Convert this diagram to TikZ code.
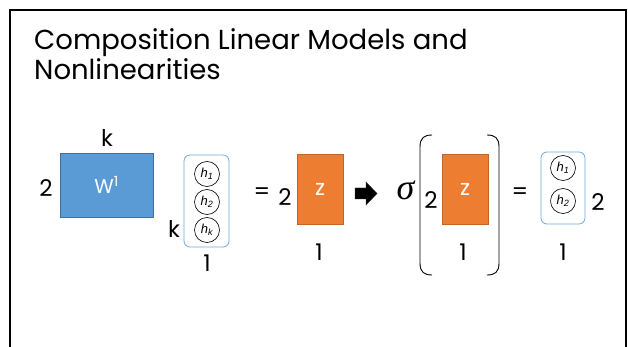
\documentclass[tikz,border=0pt]{standalone}
\usepackage{fontspec}
\setmainfont{Poppins}
\newfontfamily\hfont{Liberation Sans}
\newfontfamily\sigfont{Liberation Serif}
\definecolor{wblue}{HTML}{5B9BD5}
\definecolor{wborder}{HTML}{41719C}
\definecolor{zorange}{HTML}{ED7D31}
\definecolor{zborder}{HTML}{C0642A}
\definecolor{hblue}{HTML}{6FA8DC}
\begin{document}
\begin{tikzpicture}[x=1pt,y=-1pt,
  lbl/.style={inner sep=0pt, font=\fontsize{23}{23}\selectfont},
  ttl/.style={inner sep=0pt, anchor=base west, font=\fontsize{27.5}{30}\selectfont},
  wmat/.style={draw=wborder, fill=wblue, text=white, line width=0.6pt,
    font=\fontsize{20}{20}\selectfont},
  zmat/.style={draw=zborder, fill=zorange, text=white, line width=0.6pt,
    minimum width=46pt, minimum height=70pt, font=\fontsize{22}{22}\selectfont},
  hvec/.style={draw=hblue, line width=0.8pt, rounded corners=6pt},
  unit/.style={circle, draw, line width=0.6pt, minimum size=25pt, inner sep=0pt,
    font=\hfont\itshape\fontsize{13}{13}\selectfont},
  paren/.style={line width=0.9pt}]
\useasboundingbox (0,0) rectangle (628,347);

% slide frame
\draw[line width=2pt] (10,352) -- (10,10) -- (626,10) -- (626,352);

% title
\node[ttl] (title1) at (34,50) {Composition Linear Models and};
\node[ttl] (title2) at (34,80) {Nonlinearities};

% weight matrix W^1
\node[wmat, minimum width=93pt, minimum height=64pt] (W) at (106.5,185) {W\textsuperscript{1}};
\node[lbl] (Wk) at (107,138) {k};
\node[lbl] (W2) at (46,188) {2};

% hidden vector h (k x 1)
\node[hvec, minimum width=45pt, minimum height=92pt] (hv) at (206.5,201) {};
\node[unit] (h1) at (207,174) {h\textsubscript{1}};
\node[unit] (h2) at (207,202) {h\textsubscript{2}};
\node[unit] (hk) at (207,230) {h\textsubscript{k}};
\node[lbl] (hvk) at (174,229) {k};
\node[lbl] (hv1) at (207,263) {1};

% = z
\node[lbl] (eq1) at (262,194) {=};
\node[lbl] (z2) at (285,197) {2};
\node[zmat] (z) at (320,189) {z};
\node[lbl] (z1) at (319,252) {1};

% block arrow
\draw[fill=black, draw=black!80, line width=0.4pt]
  (355,188) -- (366,188) -- (366,182) -- (377,193.5) -- (366,205) -- (366,199) -- (355,199) -- cycle;

% sigma( z )
\node[inner sep=0pt, font=\sigfont\itshape\fontsize{36}{36}\selectfont] (sig) at (405.5,190) {σ};
\draw[paren] (432,135) .. controls (424,135) and (420,138) .. (420,147)
  -- (420,263) .. controls (420,272) and (424,275) .. (432,275);
\draw[paren] (487,135) .. controls (495,135) and (499,138) .. (499,147)
  -- (499,263) .. controls (499,272) and (495,275) .. (487,275);
\node[lbl] (sz2) at (431,200) {2};
\node[zmat] (sz) at (465,189.5) {z};
\node[lbl] (sz1) at (463,252) {1};

% = h (2 x 1)
\node[lbl] (eq2) at (520,194) {=};
\node[hvec, minimum width=44pt, minimum height=72pt] (ho) at (563,188) {};
\node[unit] (o1) at (563,168) {h\textsubscript{1}};
\node[unit] (o2) at (563,201) {h\textsubscript{2}};
\node[lbl] (ho2) at (598,202) {2};
\node[lbl] (ho1) at (563,252) {1};
\end{tikzpicture}
\end{document}
